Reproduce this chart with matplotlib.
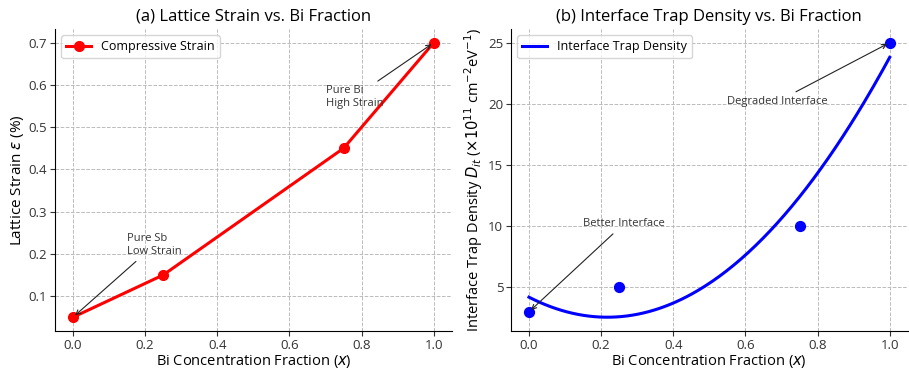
import numpy as np
import matplotlib
matplotlib.use("Agg")
import matplotlib.pyplot as plt

plt.rcParams['font.family'] = ['Open Sans', 'DejaVu Sans']

bi_frac = [0.0, 0.25, 0.75, 1.0]
strain = [0.05, 0.15, 0.45, 0.70]
dit = [3, 5, 10, 25]

# quadratic trend through the trap density points
coef = np.polyfit(bi_frac, dit, 2)
xs = np.linspace(0, 1, 200)
fit = np.polyval(coef, xs)

fig, (ax1, ax2) = plt.subplots(1, 2, figsize=(9.09, 3.71), dpi=100)
fig.subplots_adjust(left=0.0605, right=0.9986, top=0.922, bottom=0.108, wspace=0.149)

arrow = dict(arrowstyle='->', color='#222222', lw=0.8)

ax1.plot(bi_frac, strain, color='red', marker='o', markersize=7, lw=2.2,
         label='Compressive Strain')
ax1.annotate('Pure Sb\nLow Strain', xy=(0, 0.05), xytext=(0.15, 0.2),
             fontsize=8, color='#333333', arrowprops=arrow)
ax1.annotate('Pure Bi\nHigh Strain', xy=(1, 0.7), xytext=(0.7, 0.55),
             fontsize=8, color='#333333', arrowprops=arrow)
ax1.set_title('(a) Lattice Strain vs. Bi Fraction', fontsize=12)
ax1.set_xlabel('Bi Concentration Fraction ($x$)', fontsize=10.5, labelpad=1)
ax1.set_ylabel(r'Lattice Strain $\varepsilon$ (%)', fontsize=11, labelpad=2)
ax1.legend(loc='upper left', fontsize=9)

ax2.plot(xs, fit, color='blue', lw=2.2, label='Interface Trap Density')
ax2.scatter(bi_frac, dit, color='blue', s=50, zorder=3)
ax2.annotate('Better Interface', xy=(0, 3), xytext=(0.15, 10),
             fontsize=8, color='#333333', arrowprops=arrow)
ax2.annotate('Degraded Interface', xy=(1, 25), xytext=(0.55, 20),
             fontsize=8, color='#333333', arrowprops=arrow)
ax2.set_title('(b) Interface Trap Density vs. Bi Fraction', fontsize=12)
ax2.set_xlabel('Bi Concentration Fraction ($x$)', fontsize=10.5, labelpad=1)
ax2.set_ylabel(r'Interface Trap Density $D_{it}$ ($\times 10^{11}$ cm$^{-2}$eV$^{-1}$)',
               fontsize=10.5, labelpad=2)
ax2.legend(loc='upper left', fontsize=9)

for ax in (ax1, ax2):
    ax.grid(True, linestyle='--', color='#bbbbbb', lw=0.7)
    ax.spines['top'].set_visible(False)
    ax.spines['right'].set_visible(False)
    ax.tick_params(labelsize=9.5, colors='#333333', pad=2)

fig.savefig('out.png', dpi=100)
